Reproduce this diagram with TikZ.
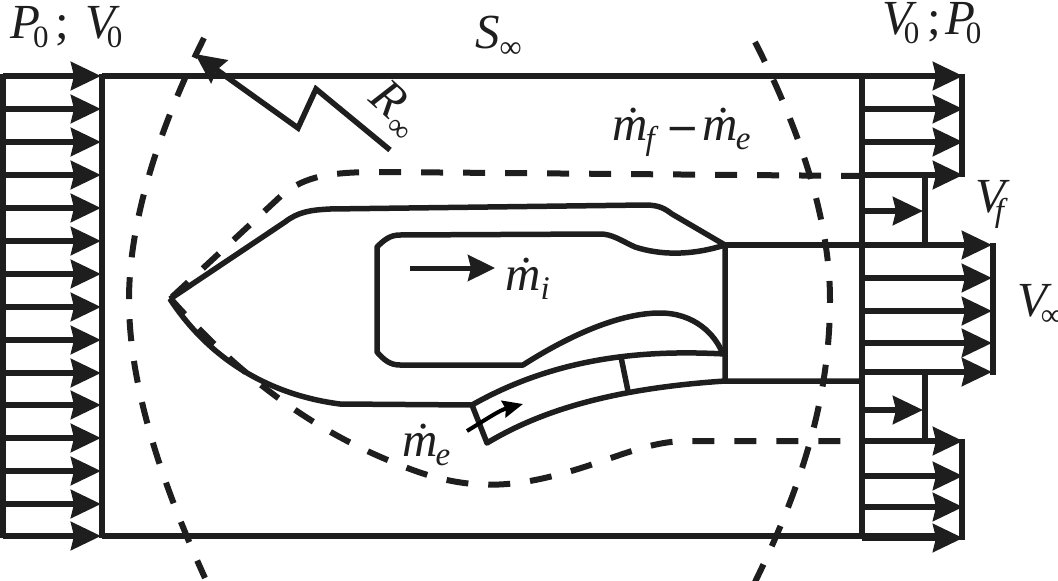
\documentclass[tikz,border=0pt]{standalone}
\usepackage{fontspec}
\setmainfont{Liberation Serif}
\usetikzlibrary{arrows.meta}
\definecolor{ink}{HTML}{1E1E1E}
% #1 kern before subscript, #2 letter, #3 subscript
\newcommand{\lsub}[3]{\textit{#2}\kern#1pt\raisebox{-0.2em}{\fontsize{31}{31}\selectfont #3}}
\newcommand{\isub}[3]{\textit{#2}\kern#1pt\raisebox{-0.2em}{\fontsize{33}{33}\selectfont\textit{#3}}}
\newcommand{\mdot}{\textit{ṁ}}
\tikzset{
  every path/.style={color=ink},
  solidline/.style={draw=ink,line width=5.5pt,line join=miter},
  thinbody/.style={draw=ink,line width=5.5pt,line join=round},
  flow/.style={draw=ink,line width=5.5pt,-{Stealth[length=30pt,width=28pt,inset=3pt,color=ink]}},
  dashline/.style={draw=ink,line width=6pt,dash pattern=on 22pt off 20pt},
  lab/.style={inner sep=0pt,anchor=base west,font=\fontsize{49}{49}\selectfont,text=ink},
}
\begin{document}
\begin{tikzpicture}[x=1pt,y=-1pt]
\useasboundingbox (0,0) rectangle (1058,581);
% frame
\draw[solidline] (3,74) -- (3,538);
\draw[solidline] (102,74) -- (102,538);
\draw[solidline] (102,76) -- (940,76);
\draw[solidline] (102,536) -- (940,536);
\draw[solidline] (862,74) -- (862,538);
% left inflow
\foreach \y in {76,109,142,175,208,241,274,307,340,373,405,438,471,504,536}
  \draw[flow] (3,\y) -- (101,\y);
% right outflow
\foreach \y in {76,109,142,175}
  \draw[flow] (862,\y) -- (963,\y);
\draw[solidline] (962,74) -- (962,177);
\draw[flow] (862,211) -- (923,211);
\draw[solidline] (925,175) -- (925,245);
\foreach \y in {245,278,311,343,372}
  \draw[flow] (862,\y) -- (992,\y);
\draw[solidline] (725,245) -- (862,245);
\draw[solidline] (993,243) -- (993,375);
\draw[flow] (862,410) -- (923,410);
\draw[solidline] (925,372) -- (925,441);
\foreach \y in {441,476,507,538}
  \draw[flow] (862,\y) -- (963,\y);
\draw[solidline] (962,439) -- (962,540);
% far-field circle
\draw[dashline] (204,38) .. controls (168,110) and (129,210) .. (129,300)
  .. controls (129,390) and (165,490) .. (205,578);
\draw[dashline] (755,42) .. controls (800,130) and (830,220) .. (830,300)
  .. controls (830,400) and (800,490) .. (755,582);
% radius
\draw[solidline] (390,150) -- (316,89) -- (298,128) -- (224,75);
\draw[flow] (224,75) -- (195,54);
% streamlines
\draw[dashline] (172,297) -- (282,195) .. controls (305,176) and (330,172) .. (380,172)
  -- (862,176);
\draw[dashline] (170,298) .. controls (230,365) and (300,425) .. (395,463)
  .. controls (440,482) and (480,490) .. (530,481)
  .. controls (600,468) and (640,440) .. (690,441) -- (862,441);
% body
\draw[thinbody] (170,299) -- (285,222) .. controls (298,212) and (310,210) .. (330,209)
  -- (645,205) .. controls (660,205) and (665,209) .. (672,214) -- (725,245) -- (725,381);
\draw[thinbody] (170,299) .. controls (210,360) and (270,395) .. (340,404) -- (472,405);
% chamber
\draw[thinbody] (725,245) .. controls (690,256) and (660,255) .. (635,247)
  .. controls (620,240) and (612,234) .. (600,234) -- (400,235)
  .. controls (390,235) and (384,240) .. (377,247) -- (377,352)
  .. controls (384,360) and (390,365) .. (400,365) -- (523,365)
  .. controls (570,335) and (620,313) .. (660,313) .. controls (695,313) and (715,335) .. (722,352);
% duct
\draw[thinbody] (725,354) .. controls (650,350) and (560,355) .. (472,405) -- (487,443)
  .. controls (545,408) and (620,388) .. (725,381) -- (862,381);
\draw[thinbody] (621,357) -- (628,391);
% small arrows
\draw[flow,draw=black,line width=4pt,-{Stealth[length=20pt,width=17pt,inset=2pt,color=black]}] (467,431) .. controls (485,420) and (500,410) .. (523,404);
\draw[flow,line width=5pt,-{Stealth[length=27pt,width=26pt,inset=3pt,color=ink]}] (410,268) -- (495,268);
% labels
\node[lab] (pv) at (10,38) {\lsub{-7}{P}{0}\kern7pt;\kern16pt\lsub{-13}{V}{0}};
\node[lab] (sinf) at (475,48) {\lsub{0}{S}{∞}};
\node[lab] (vp) at (882,34) {\lsub{-13}{V}{0}\kern8pt;\kern5pt\lsub{-10}{P}{0}};
\node[lab,rotate=-42] (rinf) at (367,100) {\lsub{2}{R}{∞}};
\node[lab] (mfe) at (612,140) {\mdot\isub{-2}{}{f}\kern12pt\textbf{–}\kern7pt\mdot\isub{-2}{}{e}};
\node[lab] (vf) at (975,212) {\isub{-15}{V}{f}};
\node[lab] (vinf) at (1017,316) {\lsub{-11}{V}{∞}};
\node[lab] (mi) at (505,290) {\mdot\isub{0}{}{i}};
\node[lab] (me) at (402,456) {\mdot\isub{-2}{}{e}};
\end{tikzpicture}
\end{document}
